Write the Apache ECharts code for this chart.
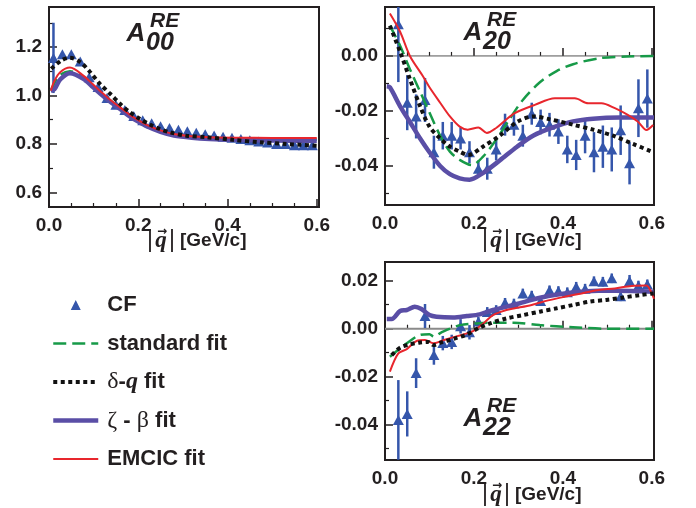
<!DOCTYPE html>
<html><head><meta charset="utf-8">
<script src="https://cdn.jsdelivr.net/npm/echarts@6/dist/echarts.min.js"></script>
<style>html,body{margin:0;padding:0;background:#fff}#c{width:696px;height:508px}</style>
</head><body><div id="c"></div><script>
// ---------- DATA ----------
// measured points (CF)
const qCF00 = [0.01,0.03,0.05,0.07,0.09,0.11,0.13,0.15,0.17,0.19,0.21,0.23,0.25,0.27,0.29,0.31,0.33,0.35,0.37,0.39,0.41,0.43,0.45,0.47,0.49,0.51,0.53,0.55,0.57,0.59];
const cf00 = [1.155,1.17,1.17,1.14,1.075,1.035,0.99,0.962,0.94,0.915,0.898,0.885,0.873,0.866,0.859,0.852,0.846,0.84,0.835,0.83,0.826,0.82,0.815,0.81,0.806,0.80,0.80,0.795,0.795,0.795];
const err00 = [0.145,0.006,0.006,0.005,0.005,0.004,0.004,0.004,0.004,0.004,0.004,0.004,0.004,0.004,0.004,0.004,0.004,0.004,0.004,0.004,0.004,0.004,0.004,0.004,0.004,0.004,0.004,0.004,0.004,0.004];

const qCF = [0.03,0.05,0.07,0.09,0.11,0.13,0.15,0.17,0.19,0.21,0.23,0.25,0.27,0.29,0.31,0.33,0.35,0.37,0.39,0.41,0.43,0.45,0.47,0.49,0.51,0.53,0.55,0.57,0.59];
const cf20 = [0.0115,-0.017,-0.022,-0.016,-0.035,-0.029,-0.029,-0.030,-0.035,-0.041,-0.041,-0.034,-0.025,-0.025,-0.029,-0.021,-0.024,-0.025,-0.0275,-0.034,-0.036,-0.029,-0.035,-0.033,-0.034,-0.027,-0.039,-0.019,-0.0155];
const err20 = [0.021,0.010,0.008,0.008,0.006,0.005,0.005,0.004,0.004,0.003,0.004,0.004,0.004,0.004,0.004,0.004,0.0045,0.0043,0.0045,0.005,0.0055,0.0064,0.0073,0.0077,0.008,0.009,0.0077,0.0105,0.0106];
const cf22 = [-0.038,-0.0355,-0.0185,0.0053,-0.011,-0.006,-0.0055,0.001,-0.0015,0.003,0.007,0.0078,0.0108,0.0105,0.0147,0.0138,0.0115,0.016,0.0157,0.0152,0.0175,0.0167,0.0198,0.0196,0.021,0.0135,0.0199,0.018,0.0185];
const err22 = [0.0166,0.0094,0.0062,0.005,0.004,0.003,0.003,0.003,0.003,0.002,0.002,0.002,0.002,0.002,0.002,0.002,0.002,0.002,0.002,0.002,0.002,0.002,0.002,0.002,0.002,0.002,0.0025,0.002,0.002];

// fit curves, A00
const q00 = [0.004,0.012,0.025,0.047,0.077,0.099,0.12,0.14,0.16,0.18,0.2,0.22,0.25,0.28,0.32,0.36,0.42,0.5,0.6];
const std00 = [1.02,1.05,1.085,1.10,1.075,1.04,1.005,0.975,0.947,0.919,0.895,0.875,0.853,0.838,0.829,0.824,0.82,0.818,0.817];
const zb00 = [1.02,1.025,1.066,1.092,1.069,1.034,1.0,0.97,0.943,0.915,0.892,0.872,0.85,0.835,0.826,0.821,0.817,0.814,0.813];
const em00 = [1.02,1.06,1.096,1.115,1.082,1.045,1.01,0.978,0.95,0.922,0.898,0.878,0.856,0.841,0.832,0.828,0.826,0.825,0.825];
const qDq00 = [0.005,0.028,0.047,0.07,0.092,0.114,0.137,0.159,0.181,0.204,0.226,0.248,0.271,0.308,0.353,0.412,0.472,0.532,0.6];
const dq00 = [1.11,1.145,1.156,1.138,1.097,1.048,1.007,0.966,0.931,0.903,0.88,0.862,0.848,0.834,0.828,0.817,0.807,0.80,0.793];

// fit curves, A20
const qStd20 = [0.011,0.034,0.056,0.079,0.1,0.124,0.146,0.168,0.195,0.22,0.25,0.28,0.31,0.349,0.386,0.423,0.483,0.544,0.605];
const std20 = [0.011,0.0037,-0.0048,-0.013,-0.0206,-0.029,-0.0348,-0.0378,-0.0397,-0.0367,-0.0305,-0.023,-0.016,-0.0095,-0.0055,-0.003,-0.0008,-0.0002,0.0];
const qDq20 = [0.011,0.034,0.056,0.079,0.1,0.124,0.146,0.168,0.187,0.22,0.258,0.297,0.333,0.37,0.423,0.468,0.513,0.558,0.603];
const dq20 = [0.011,0.0015,-0.0084,-0.0183,-0.0257,-0.030,-0.033,-0.0348,-0.036,-0.033,-0.029,-0.024,-0.022,-0.023,-0.025,-0.0268,-0.029,-0.032,-0.035];
const qZb20 = [0.004,0.011,0.034,0.056,0.079,0.1,0.124,0.146,0.168,0.19,0.22,0.258,0.297,0.333,0.378,0.423,0.468,0.528,0.605];
const zb20 = [-0.011,-0.0114,-0.0183,-0.024,-0.030,-0.035,-0.040,-0.043,-0.0445,-0.045,-0.0426,-0.038,-0.033,-0.029,-0.026,-0.0238,-0.0228,-0.0224,-0.0224];
const qEm20 = [0.011,0.034,0.056,0.085,0.10,0.124,0.146,0.168,0.186,0.21,0.229,0.25,0.27,0.292,0.337,0.382,0.427,0.457,0.487,0.517,0.547,0.569,0.588,0.603];
const em20 = [0.0154,0.0088,0.0,-0.0073,-0.0114,-0.017,-0.022,-0.0257,-0.0268,-0.026,-0.028,-0.0262,-0.0235,-0.0208,-0.0178,-0.0154,-0.0154,-0.0172,-0.0172,-0.019,-0.0215,-0.0239,-0.0269,-0.0251];

// fit curves, A22
const qStd22 = [0.011,0.034,0.056,0.079,0.1,0.11,0.127,0.169,0.206,0.236,0.289,0.348,0.423,0.498,0.605];
const std22 = [-0.0117,-0.0082,-0.0051,-0.0026,-0.0023,-0.0033,-0.0015,0.0015,0.0022,0.0025,0.0025,0.0015,0.0006,0.0,0.0];
const qDq22 = [0.015,0.034,0.056,0.079,0.097,0.109,0.127,0.153,0.184,0.213,0.236,0.273,0.311,0.348,0.386,0.423,0.461,0.498,0.536,0.573,0.604];
const dq22 = [-0.011,-0.0079,-0.0065,-0.0057,-0.0055,-0.0068,-0.0057,-0.0043,-0.0024,0.0005,0.0022,0.0043,0.0057,0.0071,0.0085,0.0099,0.0113,0.012,0.013,0.014,0.0147];
const qZb22 = [0.004,0.015,0.034,0.049,0.067,0.082,0.1,0.116,0.153,0.184,0.213,0.243,0.274,0.303,0.33,0.367,0.404,0.442,0.48,0.517,0.555,0.604];
const zb22 = [0.004,0.004,0.0074,0.0078,0.0092,0.0082,0.0057,0.005,0.0047,0.0053,0.006,0.0078,0.0092,0.0106,0.012,0.0136,0.0147,0.0154,0.0158,0.0158,0.0157,0.0154];
const qEm22 = [0.011,0.03,0.049,0.071,0.09,0.109,0.127,0.15,0.176,0.198,0.221,0.243,0.273,0.292,0.33,0.367,0.404,0.442,0.48,0.517,0.555,0.588,0.6,0.605];
const em22 = [-0.0179,-0.0103,-0.0085,-0.0051,-0.0047,-0.0061,-0.0051,-0.0037,-0.0024,-0.001,0.0022,0.0057,0.0078,0.0085,0.0099,0.0118,0.0133,0.0147,0.0161,0.0168,0.0178,0.018,0.0147,0.0125];

// reference (zero) line
const zeroLineQ = [0, 0.605];
const zeroLineV = [0, 0];

// axis ranges and tick labels
const xRange = [0, 0.605];
const xMajor = [0, 0.2, 0.4, 0.6];
const xMinor = [0.05,0.1,0.15,0.25,0.3,0.35,0.45,0.5,0.55];
const yRange00 = [0.54, 1.365];
const yMajor00 = [0.6, 0.8, 1.0, 1.2];
const yMinor00 = [0.7, 0.9, 1.1, 1.3];
const yRange20 = [-0.0542, 0.0178];
const yMajor20 = [-0.04, -0.02, 0.0];
const yMinor20 = [-0.05, -0.03, -0.01, 0.01];
const yRange22 = [-0.0547, 0.0278];
const yMajor22 = [-0.04, -0.02, 0.0, 0.02];
const yMinor22 = [-0.05, -0.03, -0.01, 0.01];

const names = {cf:'CF', std:'standard fit', dq:'δ-q fit', zb:'ζ-β fit', em:'EMCIC fit'};

// ---------- STYLE ----------
const INK = '#231f20';
const BLUE = '#3556ab';
const GREEN = '#179a48';
const PURPLE = '#5a4ea6';
const RED = '#e8262d';
const labelFont = {fontFamily:'Liberation Sans', fontWeight:'bold', fontSize:19, color:INK};

const grids = [
  {left:49, top:7, width:270, height:200},
  {left:385, top:7, width:269, height:198},
  {left:385, top:262, width:269, height:198}
].map(g => Object.assign(g, {show:true, borderColor:INK, borderWidth:2, backgroundColor:'transparent'}));

function xAxes(g) {
  return [
    {gridIndex:g, type:'value', min:xRange[0], max:xRange[1], position:'bottom',
     axisLine:{show:false}, splitLine:{show:false},
     axisTick:{inside:true, length:8, lineStyle:{color:INK, width:1.5}, customValues:xMajor},
     axisLabel:Object.assign({customValues:xMajor, formatter:v => v.toFixed(1), margin:9}, labelFont)},
    {gridIndex:g, type:'value', min:xRange[0], max:xRange[1], position:'bottom',
     axisLine:{show:false}, splitLine:{show:false},
     axisTick:{inside:true, length:4, lineStyle:{color:INK, width:1.2}, customValues:xMinor},
     axisLabel:{show:false}}
  ];
}
function yAxes(g, range, major, minor, dec) {
  return [
    {gridIndex:g, type:'value', min:range[0], max:range[1], position:'left',
     axisLine:{show:false}, splitLine:{show:false},
     axisTick:{inside:true, length:8, lineStyle:{color:INK, width:1.5}, customValues:major},
     axisLabel:Object.assign({customValues:major, formatter:v => v.toFixed(dec), margin:7}, labelFont)},
    {gridIndex:g, type:'value', min:range[0], max:range[1], position:'left',
     axisLine:{show:false}, splitLine:{show:false},
     axisTick:{inside:true, length:4, lineStyle:{color:INK, width:1.2}, customValues:minor},
     axisLabel:{show:false}}
  ];
}

const zip = (a, b) => a.map((v, i) => [v, b[i]]);

function errSeries(g, qs, vs, es) {
  return {
    type:'custom', xAxisIndex:2*g, yAxisIndex:2*g, silent:true, z:2,
    data: qs.map((q, i) => [q, vs[i] - es[i], vs[i] + es[i]]),
    renderItem(params, api) {
      const p1 = api.coord([api.value(0), api.value(1)]);
      const p2 = api.coord([api.value(0), api.value(2)]);
      const cs = params.coordSys;
      const clamp = y => Math.max(cs.y, Math.min(cs.y + cs.height, y));
      return {type:'line', shape:{x1:p1[0], y1:clamp(p1[1]), x2:p2[0], y2:clamp(p2[1])},
              style:{stroke:BLUE, lineWidth:2.5}};
    }
  };
}
function cfSeries(g, qs, vs) {
  return {type:'scatter', name:names.cf, xAxisIndex:2*g, yAxisIndex:2*g, z:3,
    symbol:'triangle', symbolSize:[11,10], itemStyle:{color:BLUE, opacity:1},
    data: zip(qs, vs)};
}
function zeroSeries(g, ls) {
  return {type:'line', name:'zero', xAxisIndex:2*g, yAxisIndex:2*g, symbol:'none', silent:true,
    z:1, lineStyle:ls, data:zip(zeroLineQ, zeroLineV)};
}
function lineSeries(g, name, qs, vs, ls, z) {
  return {type:'line', name, xAxisIndex:2*g, yAxisIndex:2*g, symbol:'none', smooth:0.3,
    z, lineStyle:ls, itemStyle:{color:ls.color}, data:zip(qs, vs)};
}
const stdStyle = {color:GREEN, width:2.5, type:[13,6]};
const dqStyle = {color:'#111', width:4, type:[4,3.5]};
const zbStyle = {color:PURPLE, width:4.5};
const emStyle = {color:RED, width:2};

const series = [
  // A00
  cfSeries(0, qCF00, cf00),
  errSeries(0, qCF00, cf00, err00),
  lineSeries(0, names.std, q00, std00, stdStyle, 4),
  lineSeries(0, names.zb, q00, zb00, zbStyle, 5),
  lineSeries(0, names.em, q00, em00, emStyle, 6),
  lineSeries(0, names.dq, qDq00, dq00, dqStyle, 7),
  // A20
  zeroSeries(1, {color:'#555', width:1}),
  cfSeries(1, qCF, cf20),
  errSeries(1, qCF, cf20, err20),
  lineSeries(1, names.std, qStd20, std20, stdStyle, 4),
  lineSeries(1, names.zb, qZb20, zb20, zbStyle, 5),
  lineSeries(1, names.em, qEm20, em20, emStyle, 6),
  lineSeries(1, names.dq, qDq20, dq20, dqStyle, 7),
  // A22
  zeroSeries(2, {color:'#8a8a8a', width:2}),
  cfSeries(2, qCF, cf22),
  errSeries(2, qCF, cf22, err22),
  lineSeries(2, names.std, qStd22, std22, stdStyle, 4),
  lineSeries(2, names.zb, qZb22, zb22, zbStyle, 5),
  lineSeries(2, names.em, qEm22, em22, emStyle, 6),
  lineSeries(2, names.dq, qDq22, dq22, dqStyle, 7)
];

// panel titles A^RE_xx and axis titles (text only)
function panelTitle(cx, cy, sub) {
  const f = {fontFamily:'Liberation Sans', fontWeight:'bold', fontStyle:'italic', fill:INK};
  return [
    {type:'text', x:cx, y:cy, style:Object.assign({text:'A', fontSize:26, align:'center', verticalAlign:'middle'}, f)},
    {type:'text', x:cx + 14, y:cy - 12.5, style:Object.assign({text:'RE', fontSize:21, align:'left', verticalAlign:'middle'}, f)},
    {type:'text', x:cx + 10, y:cy + 9.5, style:Object.assign({text:sub, fontSize:25, align:'left', verticalAlign:'middle'}, f)}
  ];
}
function axisTitle(x0, cy) {
  return [
    {type:'text', x:x0 + 2, y:cy, style:{text:'|', fontFamily:'Liberation Sans', fontSize:23, fill:INK, align:'center', verticalAlign:'middle'}},
    {type:'text', x:x0 + 13, y:cy, style:{text:'q', fontFamily:'Liberation Serif', fontWeight:'bold', fontStyle:'italic', fontSize:23, fill:INK, align:'center', verticalAlign:'middle'}},
    {type:'text', x:x0 + 14, y:cy - 9, style:{text:'→', fontFamily:'DejaVu Sans', fontWeight:'bold', fontSize:12, fill:INK, align:'center', verticalAlign:'middle'}},
    {type:'text', x:x0 + 24, y:cy, style:{text:'|', fontFamily:'Liberation Sans', fontSize:23, fill:INK, align:'center', verticalAlign:'middle'}},
    {type:'text', x:x0 + 32, y:cy, style:{text:'[GeV/c]', fontFamily:'Liberation Sans', fontWeight:'bold', fontSize:19, fill:INK, align:'left', verticalAlign:'middle'}}
  ];
}

const graphic = [].concat(
  panelTitle(136, 33.5, '00'),
  panelTitle(473, 32.5, '20'),
  panelTitle(473, 419, '22'),
  axisTitle(148, 241),
  axisTitle(483, 241),
  axisTitle(483, 495)
);

const legendRich = {
  b:{fontFamily:'Liberation Sans', fontWeight:'bold', fontSize:22, color:INK, lineHeight:24},
  g:{fontFamily:'Liberation Serif', fontWeight:'normal', fontSize:24, color:INK, lineHeight:24},
  qi:{fontFamily:'Liberation Serif', fontWeight:'bold', fontStyle:'italic', fontSize:24, color:INK, lineHeight:24}
};
function legendFmt(name) {
  if (name === names.dq) return '{g|δ}{b|-}{qi|q}{b| fit}';
  if (name === names.zb) return '{g|ζ}{b| - }{g|β}{b| fit}';
  return '{b|' + name + '}';
}
const hideSym = {opacity:0};
// small triangle centred in the 45x10 legend icon box
const cfLegendIcon = 'path://M0,5L0.01,5ZM45,5L44.99,5ZM17.5,10L22.5,0.8L27.5,10Z';

const option = {
  animation:false,
  backgroundColor:'#fff',
  grid:grids,
  xAxis:[].concat(xAxes(0), xAxes(1), xAxes(2)),
  yAxis:[].concat(yAxes(0, yRange00, yMajor00, yMinor00, 1), yAxes(1, yRange20, yMajor20, yMinor20, 2), yAxes(2, yRange22, yMajor22, yMinor22, 2)),
  legend:{
    orient:'vertical', left:51, top:293, padding:0, itemWidth:45, itemHeight:10, itemGap:14.5,
    selectedMode:false,
    lineStyle:{width:'inherit'},
    data:[
      {name:names.cf, icon:cfLegendIcon, symbolKeepAspect:false},
      {name:names.std, itemStyle:hideSym},
      {name:names.dq, itemStyle:hideSym},
      {name:names.zb, itemStyle:hideSym},
      {name:names.em, itemStyle:hideSym}
    ],
    formatter:legendFmt,
    textStyle:{fontFamily:'Liberation Sans', fontWeight:'bold', fontSize:22, color:INK, lineHeight:24, padding:[0,0,0,4], rich:legendRich}
  },
  graphic:graphic,
  series:series
};
const chart = echarts.init(document.getElementById('c'));
chart.setOption(option);
</script></body></html>
